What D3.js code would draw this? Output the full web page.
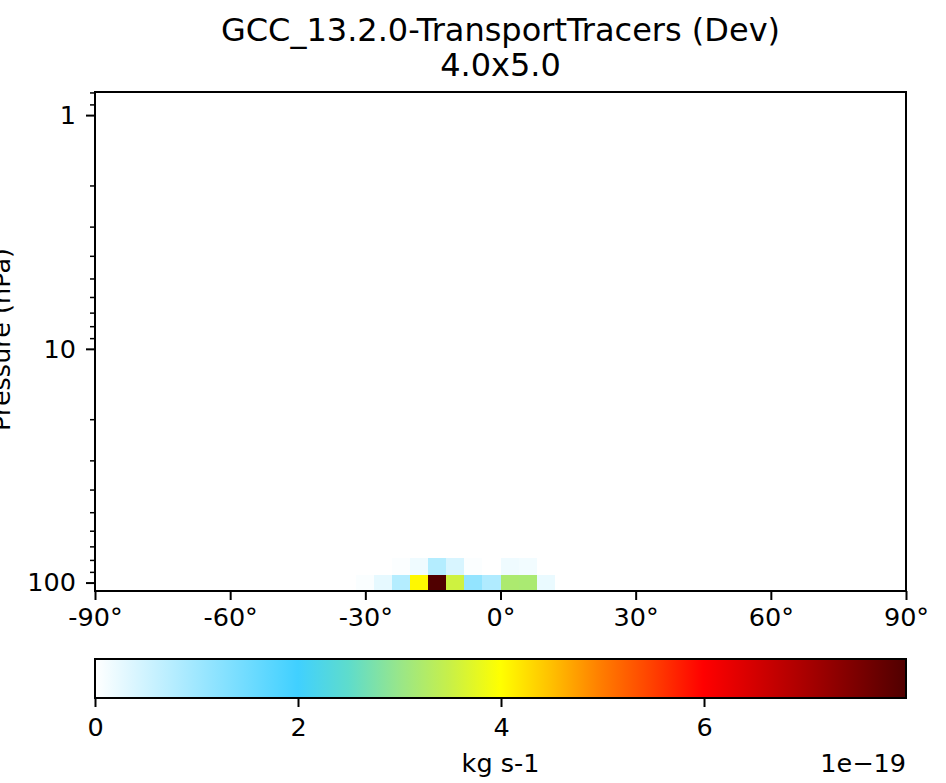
<!DOCTYPE html>
<html><head><meta charset="utf-8">
<script src="https://cdn.jsdelivr.net/npm/d3@7"></script>
<style>body{margin:0;background:#fff} text{font-family:"DejaVu Sans",sans-serif;fill:#000}</style>
</head><body><svg id="c" width="946" height="783"></svg>
<script>
// latitude cell edges (degrees) of the columns holding data
const latEdges = [-32,-28,-24,-20,-16,-12,-8,-4,0,4,8,12];
// pressure edges (hPa) of the two lowest plotted levels
const pressureEdges = [108.66, 92.37, 78.51];
// values (1e-19 kg s-1)
const level1 = [0.05,0.26,0.78,4.05,7.99,3.55,1.13,0.83,3.20,3.18,0.22];
const level2 = [0.00,0.00,0.04,0.17,0.78,0.41,0.04,0.00,0.17,0.14,0.00];
const latTicks = [-90,-60,-30,0,30,60,90];
const pTicks = [1,10,100];
const pMinor = [0.8,0.9,2,3,4,5,6,7,8,9,20,30,40,50,60,70,80,90];
const cbTicks = [0,2,4,6];
const cmapPos = [0,0.25,0.3125,0.375,0.4375,0.5,0.5625,0.625,0.6875,0.75,0.875,1];
const cmapCol = ["#ffffff","#40d0ff","#5edccc","#98e68a","#c8f048","#ffff00","#ffc000","#ff7c00","#ff4000","#ff0000","#aa0000","#500000"];
const titleLines = ["GCC_13.2.0-TransportTracers (Dev)","4.0x5.0"];

const svg = d3.select("#c");
const L=95,R=906,T=92,B=591;
const FS=25.5;
const x = d3.scaleLinear().domain([-90,90]).range([L,R]);
const y = d3.scaleLog().domain([108.66,0.7965]).range([B,T]);
const vmax = d3.max(level1.concat(level2));
const cmap = d3.scaleLinear().domain(cmapPos.map(p=>p*vmax)).range(cmapCol).interpolate(d3.interpolateRgb).clamp(true);

// cells
const rows=[level1,level2];
const cells=[];
rows.forEach((row,r)=>row.forEach((v,i)=>cells.push({r,i,v})));
svg.append("g").selectAll("rect").data(cells).join("rect")
  .attr("x",d=>x(latEdges[d.i])).attr("width",d=>x(latEdges[d.i+1])-x(latEdges[d.i])+0.3)
  .attr("y",d=>y(pressureEdges[d.r+1])).attr("height",d=>y(pressureEdges[d.r])-y(pressureEdges[d.r+1])+0.3)
  .attr("fill",d=>cmap(d.v)).attr("shape-rendering","crispEdges");

// frame
svg.append("rect").attr("x",L).attr("y",T).attr("width",R-L).attr("height",B-T)
  .attr("fill","none").attr("stroke","#000").attr("stroke-width",2);

function style(g,fs,sw){g.select(".domain").remove();g.selectAll("line").attr("stroke","#000").attr("stroke-width",sw);g.selectAll("text").style("font-size",fs+"px").attr("fill","#000");}

// x axis
svg.append("g").attr("transform",`translate(0,${B})`)
  .call(d3.axisBottom(x).tickValues(latTicks).tickSize(9).tickPadding(8).tickFormat(d=>d+"°"))
  .call(g=>style(g,FS,2));

// y axis
svg.append("g").attr("transform",`translate(${L},0)`)
  .call(d3.axisLeft(y).tickValues(pMinor).tickSize(5).tickFormat(""))
  .call(g=>style(g,FS,1.5));
svg.append("g").attr("transform",`translate(${L},0)`)
  .call(d3.axisLeft(y).tickValues(pTicks).tickSize(9).tickPadding(10).tickFormat(d3.format("d")))
  .call(g=>style(g,FS,2));
svg.append("text").attr("transform",`translate(10,${(T+B)/2-2}) rotate(-90)`)
  .attr("text-anchor","middle").style("font-size",FS+"px").text("Pressure (hPa)");

// title
titleLines.forEach((t,k)=>svg.append("text").attr("x",(L+R)/2).attr("y",41+k*35)
  .attr("text-anchor","middle").style("font-size","32px").text(t));

// colorbar
const CT=659,CB=698;
const cb = d3.scaleLinear().domain([0,vmax]).range([L,R]);
const grad = svg.append("defs").append("linearGradient").attr("id","g1");
cmapPos.forEach((p,k)=>grad.append("stop").attr("offset",p).attr("stop-color",cmapCol[k]));
svg.append("rect").attr("x",L).attr("y",CT).attr("width",R-L).attr("height",CB-CT)
  .attr("fill","url(#g1)").attr("stroke","#000").attr("stroke-width",2);
svg.append("g").attr("transform",`translate(0,${CB})`)
  .call(d3.axisBottom(cb).tickValues(cbTicks).tickSize(9).tickPadding(11).tickFormat(d3.format("d")))
  .call(g=>style(g,FS,2));
svg.append("text").attr("x",(L+R)/2).attr("y",772).attr("text-anchor","middle").style("font-size",FS+"px").text("kg s-1");
svg.append("text").attr("x",R).attr("y",772).attr("text-anchor","end").style("font-size",FS+"px").text("1e\u221219");
</script></body></html>
